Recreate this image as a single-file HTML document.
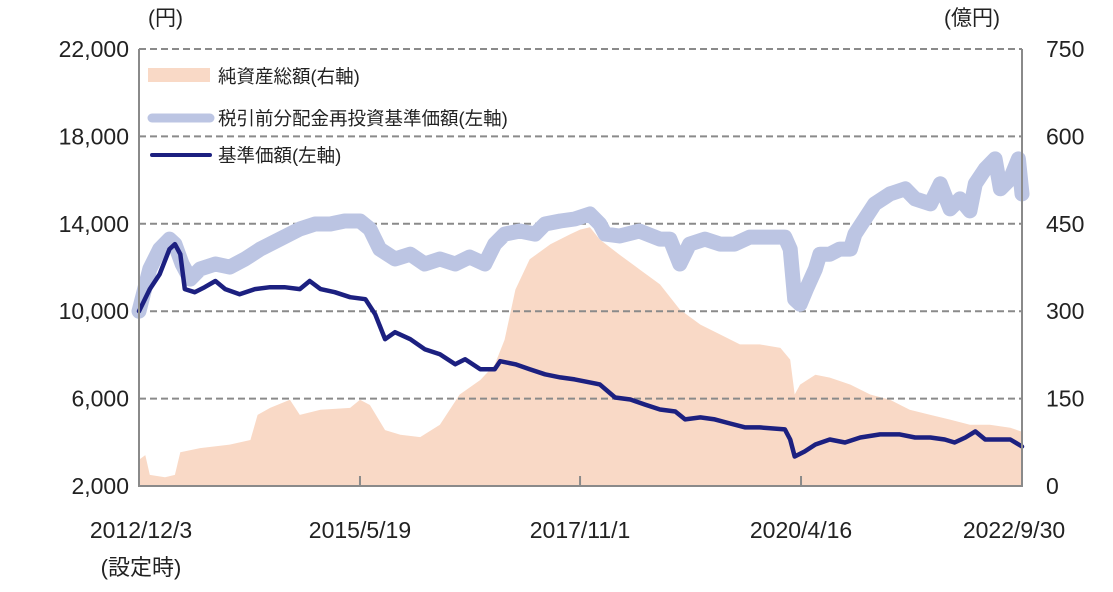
<!DOCTYPE html>
<html><head><meta charset="utf-8"><style>
body{margin:0;background:#fff;}
svg text{font-family:"Liberation Sans","Noto Sans CJK JP",sans-serif;fill:#222;}
</style></head><body>
<svg id="chart" width="1113" height="587" viewBox="0 0 1113 587" xmlns="http://www.w3.org/2000/svg">
<g id="area-layer"></g>
<g id="grid"></g>
<g id="lines"></g>
<g id="axes"></g>
<text x="148" y="25" font-size="21">(円)</text>
<text x="944" y="25" font-size="21">(億円)</text>
<g>
<rect x="148" y="68" width="62" height="14" fill="#f9d9c6"/>
<text x="218" y="83" font-size="18.5">純資産総額(右軸)</text>
<line x1="152" y1="118" x2="210" y2="118" stroke="#bcc5e3" stroke-width="9" stroke-linecap="round"/>
<text x="218" y="125" font-size="18.5">税引前分配金再投資基準価額(左軸)</text>
<line x1="152" y1="155" x2="210" y2="155" stroke="#1c2080" stroke-width="4" stroke-linecap="round"/>
<text x="218" y="162" font-size="18.5">基準価額(左軸)</text>
</g>
</svg>
<script>
const areaDates=[2012.92,2012.99,2013.04,2013.21,2013.32,2013.38,2013.60,2013.93,2014.16,2014.24,2014.38,2014.60,2014.71,2014.94,2015.27,2015.38,2015.49,2015.66,2015.83,2016.05,2016.27,2016.49,2016.72,2016.88,2016.99,2017.11,2017.27,2017.50,2017.72,2017.83,2017.94,2018.05,2018.27,2018.49,2018.72,2018.94,2019.17,2019.39,2019.61,2019.83,2020.06,2020.17,2020.22,2020.28,2020.45,2020.61,2020.84,2021.06,2021.28,2021.50,2021.73,2021.95,2022.17,2022.39,2022.62,2022.75];
const netAssets=[45,53,19,15,19,58,65,71,79,122,134,148,122,131,134,148,139,96,88,84,105,157,182,208,251,337,389,415,432,440,444,423,397,372,346,303,277,260,243,243,237,217,157,174,191,186,174,157,148,131,122,114,105,105,100,93];
const reinvDates=[2012.92,2013.04,2013.15,2013.26,2013.32,2013.40,2013.49,2013.60,2013.77,2013.93,2014.10,2014.27,2014.49,2014.71,2014.88,2015.05,2015.21,2015.38,2015.49,2015.60,2015.77,2015.94,2016.10,2016.27,2016.44,2016.60,2016.77,2016.88,2016.99,2017.16,2017.33,2017.44,2017.61,2017.77,2017.94,2018.05,2018.11,2018.27,2018.49,2018.72,2018.83,2018.94,2019.05,2019.22,2019.39,2019.55,2019.72,2019.94,2020.11,2020.17,2020.22,2020.28,2020.35,2020.45,2020.50,2020.61,2020.72,2020.84,2020.89,2021.00,2021.11,2021.28,2021.45,2021.56,2021.73,2021.84,2021.95,2022.06,2022.17,2022.23,2022.34,2022.45,2022.51,2022.62,2022.71,2022.75];
const reinvNav=[10000,11930,12840,13300,13070,12160,11470,11930,12160,12020,12390,12840,13300,13760,13990,13990,14130,14130,13760,12840,12390,12610,12160,12390,12160,12480,12160,13070,13530,13670,13530,13990,14130,14220,14450,13990,13530,13440,13670,13300,13300,12160,13070,13300,13070,13070,13390,13390,13390,12840,10550,10320,11010,11930,12610,12610,12840,12840,13530,14220,14910,15370,15600,15140,14910,15830,14680,15140,14590,15830,16510,16970,15600,16060,16970,15370];
const navDates=[2012.92,2013.04,2013.15,2013.26,2013.32,2013.38,2013.43,2013.54,2013.65,2013.77,2013.88,2014.04,2014.21,2014.38,2014.54,2014.71,2014.82,2014.94,2015.10,2015.27,2015.44,2015.55,2015.66,2015.77,2015.94,2016.10,2016.27,2016.44,2016.55,2016.72,2016.88,2016.94,2017.11,2017.27,2017.44,2017.61,2017.77,2017.94,2018.05,2018.22,2018.39,2018.55,2018.72,2018.89,2019.00,2019.17,2019.33,2019.50,2019.67,2019.83,2020.11,2020.17,2020.22,2020.33,2020.45,2020.61,2020.78,2020.95,2021.17,2021.39,2021.56,2021.73,2021.89,2022.00,2022.12,2022.23,2022.34,2022.45,2022.62,2022.75];
const nav=[10000,11010,11700,12840,13070,12610,11010,10870,11100,11380,11010,10780,11010,11100,11100,11010,11380,11010,10870,10640,10550,9860,8720,9040,8720,8260,8030,7570,7800,7340,7340,7710,7570,7340,7110,6970,6880,6740,6650,6050,5960,5730,5500,5410,5050,5140,5050,4860,4680,4680,4590,4130,3350,3580,3900,4130,3990,4220,4360,4360,4220,4220,4130,3990,4220,4500,4130,4130,4130,3810];
const leftTicks=[2000,6000,10000,14000,18000,22000];
const leftTickLabels=["2,000","6,000","10,000","14,000","18,000","22,000"];
const rightTicks=[0,150,300,450,600,750];
const xTickDates=[2012.92,2015.38,2017.83,2020.29,2022.75];
const xTickLabels=["2012/12/3","2015/5/19","2017/11/1","2020/4/16","2022/9/30"];

const L=139,R=1022,T=49,B=486;
const NS="http://www.w3.org/2000/svg";
const xS=d=>L+(d-2012.92)/(2022.75-2012.92)*(R-L);
const yL=v=>B-(v-2000)/20000*(B-T);
const yR=v=>B-v/750*(B-T);
function mk(tag,attrs,parent){const e=document.createElementNS(NS,tag);for(const k in attrs)e.setAttribute(k,attrs[k]);parent.appendChild(e);return e;}
const areaG=document.getElementById('area-layer'),gridG=document.getElementById('grid'),linesG=document.getElementById('lines'),axesG=document.getElementById('axes');

let dA=`M${xS(areaDates[0])},${B}`;
areaDates.forEach((d,i)=>{dA+=` L${xS(d).toFixed(1)},${yR(netAssets[i]).toFixed(1)}`;});
dA+=` L${xS(areaDates[areaDates.length-1])},${B} Z`;
const area=mk('path',{d:dA,fill:'#f9d9c6'},areaG);



leftTicks.forEach((v,i)=>{
  const y=yL(v);
  if(v>2000){
    const g=mk('line',{x1:L,x2:R,y1:y,y2:y,stroke:'#8a8a8a','stroke-width':2,'stroke-dasharray':'7,4'},gridG);
    
    
  }
  const t=mk('text',{x:129,y:y+8,'text-anchor':'end','font-size':23},axesG);
  t.textContent=leftTickLabels[i];
  
  
});
rightTicks.forEach(v=>{
  const t=mk('text',{x:1046,y:yR(v)+8,'font-size':23},axesG);
  t.textContent=String(v);
  
  
});

function line(ds,vs,color,w,name){
  let d='';ds.forEach((x,i)=>{d+=(i?' L':'M')+xS(x).toFixed(1)+','+yL(vs[i]).toFixed(1);});
  const p=mk('path',{d:d,fill:'none',stroke:color,'stroke-width':w,'stroke-linejoin':'round','stroke-linecap':'round'},linesG);
  
  
}
line(reinvDates,reinvNav,'#bcc5e3',15,'reinvested-nav-line');
line(navDates,nav,'#1c2080',4.5,'nav-line');

const frame=mk('path',{d:`M${L},${T} L${L},${B} L${R},${B} L${R},${T}`,fill:'none',stroke:'#8a8a8a','stroke-width':2},axesG);


xTickDates.forEach((d,i)=>{
  const x=xS(d);
  const tk=mk('line',{x1:x,x2:x,y1:B,y2:B-10,stroke:'#8a8a8a','stroke-width':2},axesG);
  
  
  const t=mk('text',{x:i==0?x+2:(i==4?x-8:x),y:538,'text-anchor':'middle','font-size':23},axesG);
  t.textContent=xTickLabels[i];
  
  
});
const s=mk('text',{x:141,y:575,'text-anchor':'middle','font-size':22},axesG);
s.textContent='(設定時)';


</script>
</body></html>
